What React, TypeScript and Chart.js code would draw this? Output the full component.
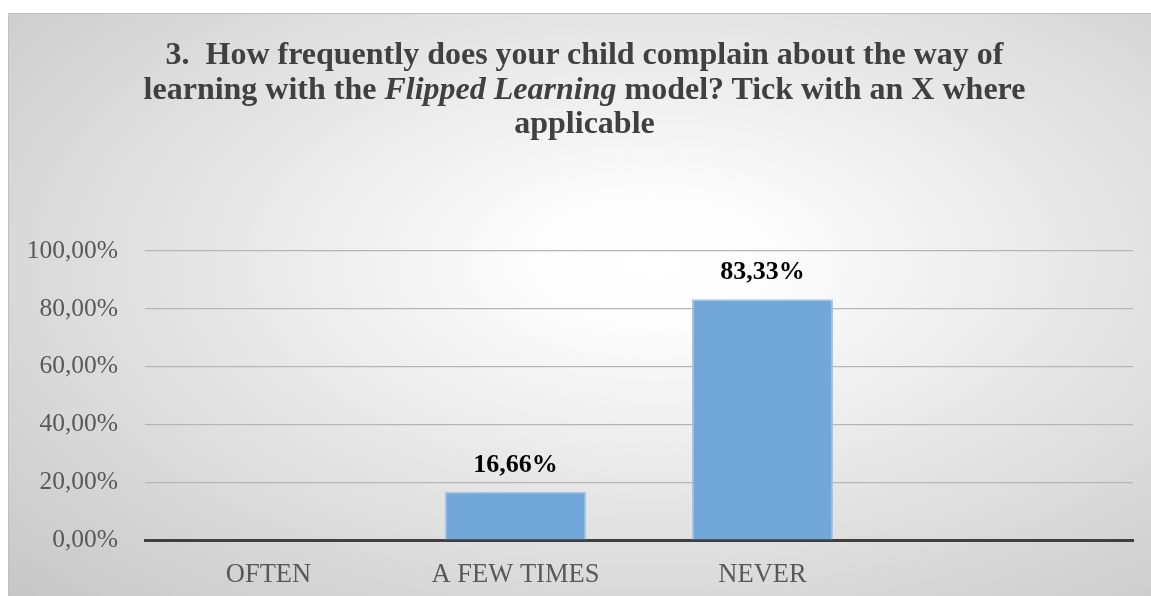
import React, { useEffect, useRef } from "react";
import { Chart, registerables } from "chart.js";

Chart.register(...registerables);

const categories: string[] = ["OFTEN", "A FEW TIMES", "NEVER", ""];
const values: (number | null)[] = [0, 16.66, 83.33, null];
const yTicks: number[] = [0, 20, 40, 60, 80, 100];

const fmt = (v: number) => v.toFixed(2).replace(".", ",") + "%";

const SERIF = "'Liberation Serif', 'Times New Roman', serif";

const dataLabelPlugin = {
  id: "dataLabels",
  afterDatasetsDraw(chart: any) {
    const ctx = chart.ctx;
    const meta = chart.getDatasetMeta(0);
    ctx.save();
    ctx.font = "bold 26px " + SERIF;
    ctx.fillStyle = "#000000";
    ctx.textAlign = "center";
    ctx.textBaseline = "middle";
    meta.data.forEach((bar: any, i: number) => {
      const v = values[i];
      if (v === null || v === 0) return;
      ctx.fillText(fmt(v), bar.x, bar.y - 27);
    });
    ctx.restore();
  },
};

export default function App() {
  const ref = useRef<HTMLCanvasElement>(null);

  useEffect(() => {
    if (!ref.current) return;
    const chart = new Chart(ref.current, {
      type: "bar",
      data: {
        labels: categories,
        datasets: [
          {
            data: values,
            backgroundColor: "#72a7d9",
            borderColor: "#a3c6e8",
            borderWidth: 1.5,
            categoryPercentage: 1,
            barPercentage: 0.571,
          },
        ],
      },
      options: {
        animation: false,
        responsive: true,
        maintainAspectRatio: false,
        layout: { padding: { top: 237, right: 18, bottom: 0, left: 0 } },
        plugins: {
          legend: { display: false },
          title: { display: false },
          tooltip: { enabled: false },
        },
        scales: {
          x: {
            z: 1,
            grid: { display: false, drawTicks: false },
            border: { display: true, color: "#404040", width: 3 },
            ticks: {
              color: "#595959",
              font: { family: SERIF, size: 26.5 },
              padding: 19,
              maxRotation: 0,
              autoSkip: false,
            },
            afterFit: (s: any) => {
              s.height = 56;
            },
          },
          y: {
            min: 0,
            max: 100,
            afterBuildTicks: (s: any) => {
              s.ticks = yTicks.map((v) => ({ value: v }));
            },
            grid: { color: "#b6b6b6", lineWidth: 1.2, drawTicks: false },
            border: { display: false },
            ticks: {
              color: "#595959",
              font: { family: SERIF, size: 25.5 },
              padding: 27,
              callback: (v: any) => fmt(Number(v)),
            },
            afterFit: (s: any) => {
              s.width = 136;
            },
          },
        },
      },
      plugins: [dataLabelPlugin],
    });
    return () => chart.destroy();
  }, []);

  return (
    <div style={{ position: "fixed", left: 8, top: 13, width: 1143, height: 583, overflow: "hidden" }}>
      <div
        style={{
          position: "relative",
          width: 1152,
          height: 590,
          boxSizing: "border-box",
          borderTop: "1px solid #bfbfbf",
          borderLeft: "1px solid #bfbfbf",
          background:
            "radial-gradient(ellipse farthest-corner at 56% 42%, #ffffff 0%, #fcfcfc 14%, #e4e4e4 52%, #c6c6c6 100%)",
        }}
      >
        <div
          style={{
            position: "absolute",
            left: 0,
            top: 22,
            width: 1151,
            textAlign: "center",
            fontFamily: SERIF,
            fontWeight: "bold",
            fontSize: 32,
            lineHeight: "34.5px",
            color: "#404040",
            whiteSpace: "nowrap",
          }}
        >
          {"3.\u00a0 How frequently does your child complain about the way of"}
          <br />
          {"learning with the "}
          <i>Flipped Learning</i>
          {" model? Tick with an X where"}
          <br />
          {"applicable"}
        </div>
        <div style={{ position: "absolute", left: 0, top: 0, width: 1142, height: 582 }}>
          <canvas ref={ref} />
        </div>
      </div>
    </div>
  );
}
